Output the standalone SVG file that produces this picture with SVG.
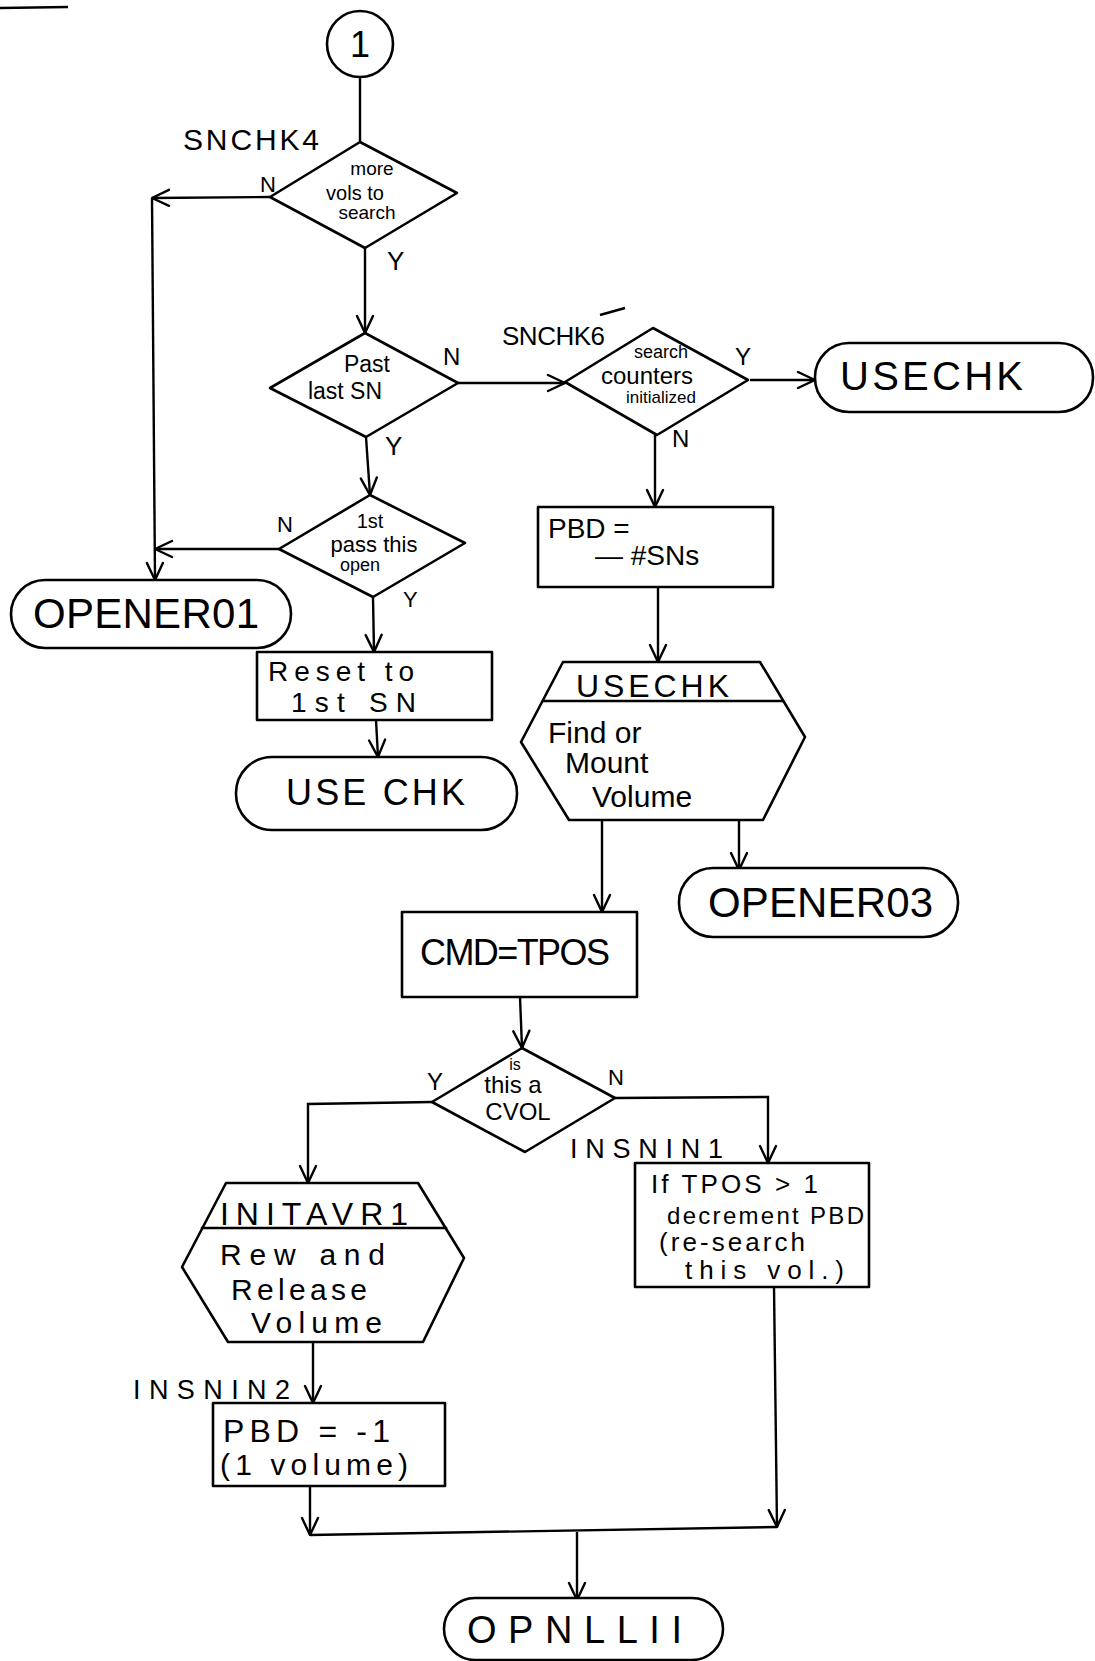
<svg xmlns="http://www.w3.org/2000/svg" width="1095" height="1661" viewBox="0 0 1095 1661">
<defs>
<style>
.s{fill:none;stroke:#000;stroke-width:2.6;stroke-linejoin:round;stroke-linecap:round}
.n{fill:#fff;stroke:#000;stroke-width:2.6;stroke-linejoin:round}
.c{fill:none;stroke:#000;stroke-width:2.4}
text{font-family:"Liberation Sans",Arial,sans-serif;fill:#000}
.m{text-anchor:middle}
</style>
<marker id="a" viewBox="0 0 20 20" refX="19" refY="10" markerWidth="20" markerHeight="20" markerUnits="userSpaceOnUse" orient="auto">
<path d="M2,2 L19,10 L2,18" fill="none" stroke="#000" stroke-width="2.4" stroke-linecap="round"/>
</marker>
</defs>
<rect width="1095" height="1661" fill="#fff"/>
<line x1="0" y1="8" x2="68" y2="7" class="c"/>

<g id="connectors">
<line class="c" x1="360" y1="77" x2="360" y2="142"/>
<line class="c" x1="270" y1="197" x2="152" y2="198" marker-end="url(#a)"/>
<line class="c" x1="152" y1="198" x2="155" y2="580" marker-end="url(#a)"/>
<line class="c" x1="365" y1="248" x2="365" y2="333" marker-end="url(#a)"/>
<line class="c" x1="458" y1="383" x2="565" y2="383" marker-end="url(#a)"/>
<line class="c" x1="366" y1="437" x2="370" y2="495" marker-end="url(#a)"/>
<line class="c" x1="279" y1="549" x2="155" y2="549" marker-end="url(#a)"/>
<line class="c" x1="373" y1="597" x2="374" y2="652" marker-end="url(#a)"/>
<line class="c" x1="376" y1="720" x2="378" y2="757" marker-end="url(#a)"/>
<line class="c" x1="750" y1="380" x2="815" y2="380" marker-end="url(#a)"/>
<line class="c" x1="655" y1="435" x2="655" y2="507" marker-end="url(#a)"/>
<line class="c" x1="658" y1="587" x2="658" y2="662" marker-end="url(#a)"/>
<line class="c" x1="602" y1="820" x2="602" y2="912" marker-end="url(#a)"/>
<line class="c" x1="739" y1="820" x2="739" y2="870" marker-end="url(#a)"/>
<line class="c" x1="520" y1="997" x2="522" y2="1048" marker-end="url(#a)"/>
<polyline class="c" points="432,1102 308,1104 308,1183" marker-end="url(#a)"/>
<polyline class="c" points="615,1098 768,1097 768,1163" marker-end="url(#a)"/>
<line class="c" x1="313" y1="1342" x2="313" y2="1403" marker-end="url(#a)"/>
<line class="c" x1="310" y1="1486" x2="310" y2="1535" marker-end="url(#a)"/>
<line class="c" x1="774" y1="1287" x2="777" y2="1527" marker-end="url(#a)"/>
<line class="c" x1="310" y1="1535" x2="777" y2="1527"/>
<line class="c" x1="577" y1="1532" x2="577" y2="1600" marker-end="url(#a)"/>
</g>

<g id="start">
<circle class="n" cx="360" cy="44" r="33"/>
<text class="m" x="360" y="57" font-size="36">1</text>
</g>

<g id="snchk4">
<polygon class="n" points="360,142 457,193 365,248 270,197"/>
<text x="183" y="150" font-size="30" textLength="136">SNCHK4</text>
<text class="m" x="372" y="175" font-size="19">more</text>
<text class="m" x="355" y="200" font-size="20">vols to</text>
<text class="m" x="367" y="219" font-size="19">search</text>
<text x="260" y="192" font-size="22">N</text>
<text x="387" y="270" font-size="26">Y</text>
</g>

<g id="pastlast">
<polygon class="n" points="365,333 458,383 366,437 270,388"/>
<text class="m" x="367" y="372" font-size="23">Past</text>
<text class="m" x="345" y="399" font-size="23">last SN</text>
<text x="443" y="365" font-size="24">N</text>
<text x="385" y="455" font-size="26">Y</text>
</g>

<g id="snchk6">
<polygon class="n" points="653,328 748,380 657,435 565,382"/>
<text x="502" y="345" font-size="26" textLength="103">SNCHK6</text>
<line class="c" x1="600" y1="315" x2="625" y2="308"/>
<text class="m" x="661" y="358" font-size="18">search</text>
<text class="m" x="647" y="384" font-size="24">counters</text>
<text class="m" x="661" y="403" font-size="17">initialized</text>
<text x="735" y="365" font-size="24">Y</text>
<text x="672" y="447" font-size="24">N</text>
</g>

<g id="usechk1">
<rect class="n" x="815" y="343" width="278" height="69" rx="34"/>
<text x="840" y="390" font-size="40" textLength="183">USECHK</text>
</g>

<g id="pbd1">
<rect class="n" x="538" y="507" width="235" height="80"/>
<text x="548" y="538" font-size="28">PBD =</text>
<text x="595" y="565" font-size="28">— #SNs</text>
</g>

<g id="usechk-find">
<polygon class="n" points="563,662 760,662 805,737 763,820 569,820 521,742"/>
<line class="s" x1="543" y1="701" x2="783" y2="701"/>
<text x="576" y="697" font-size="32" textLength="153">USECHK</text>
<text x="548" y="743" font-size="30">Find or</text>
<text x="565" y="773" font-size="30">Mount</text>
<text x="592" y="807" font-size="30">Volume</text>
</g>

<g id="opener03">
<rect class="n" x="679" y="868" width="279" height="69" rx="34"/>
<text x="708" y="917" font-size="42" textLength="225">OPENER03</text>
</g>

<g id="firstpass">
<polygon class="n" points="370,495 465,543 373,597 279,549"/>
<text class="m" x="370" y="528" font-size="20">1st</text>
<text class="m" x="374" y="552" font-size="22">pass this</text>
<text class="m" x="360" y="571" font-size="18">open</text>
<text x="277" y="532" font-size="22">N</text>
<text x="403" y="607" font-size="22">Y</text>
</g>

<g id="opener01">
<rect class="n" x="11" y="580" width="280" height="68" rx="34"/>
<text x="33" y="628" font-size="42" textLength="226">OPENER01</text>
</g>

<g id="reset">
<rect class="n" x="257" y="652" width="235" height="68"/>
<text x="268" y="681" font-size="28" textLength="146">Reset to</text>
<text x="291" y="712" font-size="28" textLength="125">1st SN</text>
</g>

<g id="usechk2">
<rect class="n" x="236" y="757" width="281" height="73" rx="36"/>
<text x="286" y="805" font-size="36" textLength="179">USE CHK</text>
</g>

<g id="cmd">
<rect class="n" x="402" y="912" width="235" height="85"/>
<text x="420" y="965" font-size="36" textLength="190">CMD=TPOS</text>
</g>

<g id="cvol">
<polygon class="n" points="522,1048 615,1098 525,1152 432,1102"/>
<text class="m" x="515" y="1070" font-size="16">is</text>
<text class="m" x="513" y="1093" font-size="24">this a</text>
<text class="m" x="518" y="1120" font-size="24">CVOL</text>
<text x="427" y="1090" font-size="24">Y</text>
<text x="608" y="1085" font-size="22">N</text>
</g>

<g id="insnin1">
<text x="570" y="1158" font-size="27" textLength="153">INSNIN1</text>
<rect class="n" x="635" y="1163" width="234" height="124"/>
<text x="651" y="1193" font-size="26" textLength="167">If TPOS &gt; 1</text>
<text x="667" y="1224" font-size="24" textLength="197">decrement PBD</text>
<text x="659" y="1251" font-size="26" textLength="146">(re-search</text>
<text x="685" y="1279" font-size="26" textLength="159">this vol.)</text>
</g>

<g id="initavr1">
<polygon class="n" points="226,1183 418,1183 464,1258 423,1342 228,1342 182,1267"/>
<line class="s" x1="202" y1="1228" x2="446" y2="1228"/>
<text x="220" y="1225" font-size="32" textLength="188">INITAVR1</text>
<text x="220" y="1265" font-size="30" textLength="165">Rew and</text>
<text x="231" y="1300" font-size="30" textLength="136">Release</text>
<text x="251" y="1333" font-size="30" textLength="131">Volume</text>
</g>

<g id="insnin2">
<text x="133" y="1399" font-size="27" textLength="157">INSNIN2</text>
<rect class="n" x="213" y="1403" width="232" height="83"/>
<text x="223" y="1442" font-size="32" textLength="167">PBD = -1</text>
<text x="220" y="1475" font-size="30" textLength="188">(1 volume)</text>
</g>

<g id="opnllii">
<rect class="n" x="444" y="1598" width="279" height="62" rx="31"/>
<text x="467" y="1643" font-size="38" textLength="215">OPNLLII</text>
</g>
</svg>
